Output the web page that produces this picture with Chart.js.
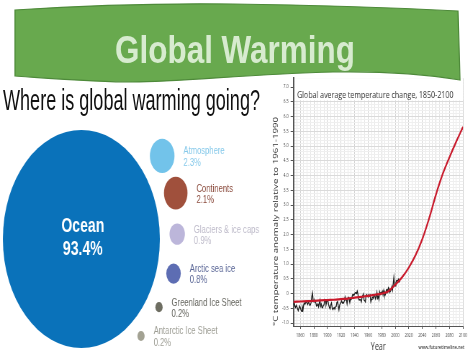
<!DOCTYPE html>
<html>
<head>
<meta charset="utf-8">
<script src="https://cdn.jsdelivr.net/npm/chart.js@4.4.0/dist/chart.umd.min.js"></script>
<style>
html,body{margin:0;padding:0;background:#fff;}
#page{position:relative;width:474px;height:355px;overflow:hidden;background:#fff;}
.squish{position:absolute;transform-origin:0 0;transform:scaleX(0.72);}
#bubbleWrap{left:0;top:120px;width:364px;height:235px;}
#lineWrap{left:262px;top:70px;width:294px;height:285px;}
#deco{position:absolute;left:0;top:0;z-index:2;}
</style>
</head>
<body>
<div id="page">
<svg id="deco" width="474" height="122" xmlns="http://www.w3.org/2000/svg">
  <path d="M15,10 C60,7 150,3 233,4 C320,5 400,8 458,11 L460,80 C430,75 390,71 333,72 C250,74 180,82 133,82 C100,82 60,79 15,76 Z"
        fill="#68a94e" stroke="#4e8a3a" stroke-width="1.2"/>
  <text x="235" y="63" text-anchor="middle" textLength="240" lengthAdjust="spacingAndGlyphs"
        font-family="'Liberation Sans', Arial, sans-serif" font-weight="bold" font-size="39.5" fill="#d7ebcf">Global Warming</text>
  <text x="3" y="110" textLength="257" lengthAdjust="spacingAndGlyphs"
        font-family="'Liberation Sans', Arial, sans-serif" font-size="29" fill="#111">Where is global warming going?</text>
</svg>
<div id="bubbleWrap" class="squish"><canvas id="bubble" width="364" height="235"></canvas></div>
<div id="lineWrap" class="squish"><canvas id="line" width="294" height="285"></canvas></div>
</div>
<script>
// ---------- Bubble data ----------
const bubbleNames = ['Ocean', 'Atmosphere', 'Continents', 'Glaciers & ice caps', 'Arctic sea ice', 'Greenland Ice Sheet', 'Antarctic Ice Sheet'];
const bubbleShares = [93.4, 2.3, 2.1, 0.9, 0.8, 0.2, 0.2];
const bubbleColors = ['#0a72ba', '#72c3ea', '#a0503c', '#bcb6da', '#5d6db3', '#6e6e62', '#a3a293'];
const bubbleTextColors = ['#ffffff', '#86c9ea', '#8a4a3c', '#bdbac9', '#5a6696', '#66665f', '#9e9e95'];

// ---------- Temperature data ----------
const obsFirstYear = 1850;
const obsAnomaly = [
  -0.38,-0.30,-0.42,-0.47,-0.40,-0.45,-0.52,-0.58,-0.50,-0.42,
  -0.48,-0.55,-0.60,-0.45,-0.55,-0.38,-0.32,-0.36,-0.30,-0.28,
  -0.33,-0.37,-0.28,-0.33,-0.40,-0.38,-0.30,-0.10,0.02,-0.25,
  -0.28,-0.22,-0.27,-0.33,-0.42,-0.40,-0.36,-0.45,-0.32,-0.22,
  -0.43,-0.36,-0.47,-0.48,-0.40,-0.38,-0.20,-0.22,-0.38,-0.27,
  -0.22,-0.28,-0.40,-0.48,-0.52,-0.38,-0.32,-0.48,-0.54,-0.50,
  -0.48,-0.53,-0.45,-0.43,-0.30,-0.25,-0.42,-0.55,-0.40,-0.33,
  -0.30,-0.25,-0.32,-0.30,-0.32,-0.24,-0.12,-0.22,-0.22,-0.35,
  -0.17,-0.13,-0.18,-0.30,-0.17,-0.20,-0.15,-0.05,-0.03,-0.06,
  -0.02,0.03,0.02,0.00,0.08,-0.02,-0.18,-0.22,-0.20,-0.22,
  -0.28,-0.14,-0.08,-0.02,-0.22,-0.24,-0.28,-0.06,-0.04,-0.08,
  -0.12,-0.04,-0.08,-0.05,-0.28,-0.20,-0.14,-0.12,-0.16,-0.04,
  -0.08,-0.18,-0.10,0.04,-0.16,-0.10,-0.20,0.06,-0.02,0.04,
  0.02,0.08,-0.04,0.10,-0.04,-0.06,0.00,0.12,0.14,0.06,
  0.20,0.16,0.04,0.08,0.14,0.24,0.12,0.32,0.55,0.28,
  0.26,0.38,0.44,0.45,0.42,0.48,0.40,0.44
];
const projYears = [1850,1860,1870,1880,1890,1900,1910,1920,1930,1940,1950,1960,1970,1980,1990,2000,2010,2020,2030,2040,2050,2060,2070,2080,2090,2100];
const projAnomaly = [-0.28,-0.27,-0.26,-0.25,-0.23,-0.22,-0.21,-0.19,-0.17,-0.14,-0.11,-0.08,-0.04,0.00,0.08,0.30,0.55,0.88,1.30,1.85,2.55,3.35,4.05,4.62,5.15,5.65];
const xTickYears = [1860,1880,1900,1920,1940,1960,1980,2000,2020,2040,2060,2080,2100];
const yTickValues = [-1.0,-0.5,0,0.5,1.0,1.5,2.0,2.5,3.0,3.5,4.0,4.5,5.0,5.5,6.0,6.5,7.0];
const chartTitle = 'Global average temperature change, 1850-2100';
const yTitle = '°C temperature anomaly relative to 1961-1990';
const xTitle = 'Year';
const creditText = 'www.futuretimeline.net';

// ---------- Bubble chart ----------
const SANS = '"Liberation Sans", Arial, sans-serif';
const radiusPerSqrtPct = 11.28;
const radii = bubbleShares.map(v => radiusPerSqrtPct * Math.sqrt(v));
const oceanX = 113, oceanY = 119, ringGap = 13.5, startAngle = -36.5, angleStep = 17.2;
const bubblePoints = bubbleShares.map((v, i) => {
  if (i === 0) return {x: oceanX, y: oceanY, r: radii[0]};
  const a = (startAngle + (i - 1) * angleStep) * Math.PI / 180;
  const d = radii[0] + ringGap + radii[i];
  return {x: oceanX + d * Math.cos(a), y: oceanY + d * Math.sin(a), r: radii[i]};
});

const bubbleLabels = {
  id: 'bubbleLabels',
  afterDatasetsDraw(chart) {
    const ctx = chart.ctx;
    const meta = chart.getDatasetMeta(0);
    meta.data.forEach((el, i) => {
      const r = el.options.radius;
      const pct = bubbleShares[i].toFixed(1) + '%';
      ctx.save();
      ctx.fillStyle = bubbleTextColors[i];
      ctx.textBaseline = 'middle';
      if (i === 0) {
        ctx.font = 'bold 19.5px ' + SANS;
        ctx.textAlign = 'center';
        ctx.fillText(bubbleNames[i], el.x + 2, el.y - 12);
        ctx.fillText(pct, el.x + 2, el.y + 10.5);
      } else {
        ctx.font = '10.6px ' + SANS;
        ctx.textAlign = 'left';
        const x = el.x + r + 12.5;
        ctx.fillText(bubbleNames[i], x, el.y - 4.5);
        ctx.fillText(pct, x, el.y + 7);
      }
      ctx.restore();
    });
  }
};

new Chart(document.getElementById('bubble'), {
  type: 'bubble',
  data: {datasets: [{
    data: bubblePoints,
    backgroundColor: bubbleColors,
    borderWidth: 0, hoverBorderWidth: 0, hoverRadius: 0, clip: false
  }]},
  options: {
    responsive: false, animation: false, events: [],
    layout: {padding: 0, autoPadding: false},
    plugins: {legend: {display: false}, tooltip: {enabled: false}},
    scales: {
      x: {type: 'linear', min: 0, max: 364, display: false},
      y: {type: 'linear', min: 0, max: 235, reverse: true, display: false}
    }
  },
  plugins: [bubbleLabels]
});

// ---------- Line chart ----------
const OPEN = '"Open Sans", "DejaVu Sans", sans-serif';
const near = (a, b) => Math.abs(a - b) < 1e-6;
const isYLabel = v => yTickValues.some(t => near(t, v));
const isXLabel = v => xTickYears.some(t => near(t, v));

const chartDecor = {
  id: 'chartDecor',
  beforeDatasetsDraw(chart) {
    const {ctx, chartArea: a, scales: {y}} = chart;
    const yb = y.getPixelForValue(6.55);
    ctx.save();
    ctx.fillStyle = '#ffffff';
    ctx.fillRect(a.left + 1.5, a.top, a.right - a.left - 1.5, yb - a.top);
    ctx.fillStyle = '#333';
    ctx.font = '9.8px ' + OPEN;
    ctx.textAlign = 'left';
    ctx.textBaseline = 'middle';
    ctx.fillText(chartTitle, a.left + 5, y.getPixelForValue(6.73));
    ctx.restore();
  },
  afterDraw(chart) {
    const {ctx, chartArea: a} = chart;
    ctx.save();
    ctx.fillStyle = '#444';
    ctx.font = '600 5.5px ' + OPEN;
    ctx.textAlign = 'right';
    ctx.textBaseline = 'middle';
    ctx.fillText(creditText, a.right + 2, chart.height - 8);
    ctx.restore();
  }
};

new Chart(document.getElementById('line'), {
  type: 'line',
  data: {datasets: [
    {
      label: 'Projection',
      data: projYears.map((yr, i) => ({x: yr, y: projAnomaly[i]})),
      borderColor: '#c8192b', borderWidth: 2.2, pointRadius: 0,
      cubicInterpolationMode: 'monotone', fill: false
    },
    {
      label: 'Observed',
      data: obsAnomaly.map((v, i) => ({x: obsFirstYear + i, y: v})),
      borderColor: '#1c1c1c', borderWidth: 1.3, pointRadius: 0, tension: 0, fill: false
    }
  ]},
  options: {
    responsive: false, animation: false, events: [],
    layout: {padding: {top: 8.2, right: 14.8, bottom: 0, left: 0}, autoPadding: false},
    plugins: {legend: {display: false}, tooltip: {enabled: false}},
    scales: {
      x: {
        type: 'linear', min: 1850, max: 2100,
        afterFit(s) { s.height = 29; },
        ticks: {
          stepSize: 5, autoSkip: false, maxRotation: 0, minRotation: 0, padding: 4,
          color: '#444', font: {family: OPEN, size: 5},
          callback: v => isXLabel(v) ? String(v) : ''
        },
        grid: {
          color: c => isXLabel(c.tick.value) ? '#d2d2d2' : '#e6e6e6',
          tickColor: c => isXLabel(c.tick.value) ? '#555' : 'rgba(0,0,0,0)',
          tickLength: 3, lineWidth: 1
        },
        border: {color: '#555', width: 1},
        title: {display: true, text: xTitle, color: '#333', font: {family: OPEN, size: 10}, padding: {top: 0, bottom: 2}}
      },
      y: {
        type: 'linear', min: -1.1, max: 7.3,
        afterFit(s) { s.width = 43.75; },
        ticks: {
          stepSize: 0.1, autoSkip: false, padding: 3,
          color: '#444', font: {family: OPEN, size: 5},
          callback: v => isYLabel(v) ? (near(v, 0) ? '0' : Number(v).toFixed(1)) : ''
        },
        grid: {
          color: c => isYLabel(c.tick.value) ? '#dadada' : '#efefef',
          tickColor: c => isYLabel(c.tick.value) ? '#555' : 'rgba(0,0,0,0)',
          tickLength: 4, lineWidth: 1
        },
        border: {color: '#555', width: 2},
        title: {display: true, text: yTitle, align: 'start', color: '#333', font: {family: OPEN, size: 9.7}, padding: {top: 13.6, bottom: 0}}
      }
    }
  },
  plugins: [chartDecor]
});
</script>
</body>
</html>
